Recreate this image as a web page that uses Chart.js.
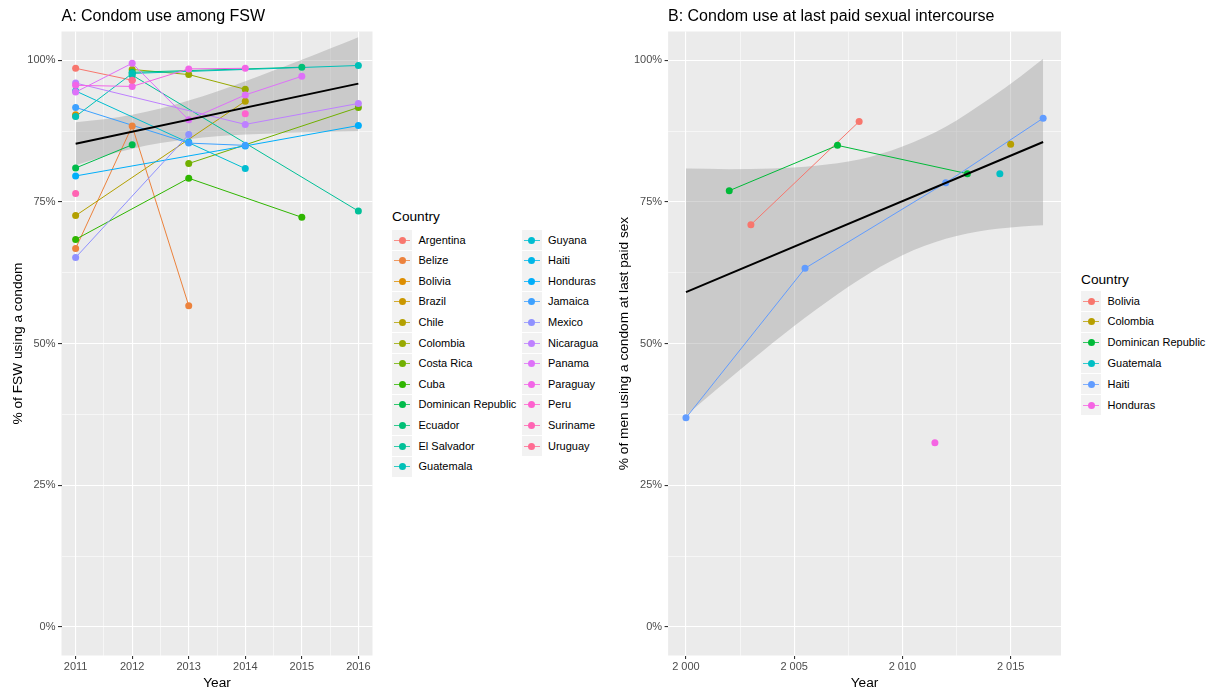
<!DOCTYPE html>
<html>
<head>
<meta charset="utf-8">
<script src="https://cdn.jsdelivr.net/npm/chart.js@4.4.1/dist/chart.umd.min.js"></script>
<style>
  body { margin: 0; background: #fff; font-family: "Liberation Sans", Arial, sans-serif; }
  #page { position: relative; width: 1214px; height: 693px; overflow: hidden; }
  canvas { position: absolute; top: 0; }
  .ttl { position: absolute; top: 6px; font-size: 16px; line-height: 20px; color: #000; white-space: nowrap; }
  .lgd-title { position: absolute; font-size: 13.7px; line-height: 16px; color: #000; }
  .key { position: absolute; width: 20px; height: 20px; background: #f2f2f2; }
  .key .ln { position: absolute; left: 2px; right: 2px; top: 9.5px; height: 1px; opacity: 0.8; }
  .key .dt { position: absolute; left: 6.5px; top: 6.5px; width: 7px; height: 7px; border-radius: 50%; }
  .lab { position: absolute; font-size: 11px; line-height: 13px; color: #000; white-space: nowrap; }
</style>
</head>
<body>
<div id="page">
  <canvas id="fsw" width="383" height="693" style="left:0"></canvas>
  <canvas id="men" width="470" height="693" style="left:600px"></canvas>
  <div class="ttl" style="left:61.5px">A: Condom use among FSW</div>
  <div class="ttl" style="left:668px">B: Condom use at last paid sexual intercourse</div>
</div>
<script>
// panel A: condom use among FSW
var fswYears = [2011, 2012, 2013, 2014, 2015, 2016];
var fswCountries = ["Argentina", "Belize", "Bolivia", "Brazil", "Chile", "Colombia", "Costa Rica", "Cuba",
  "Dominican Republic", "Ecuador", "El Salvador", "Guatemala", "Guyana", "Haiti", "Honduras", "Jamaica",
  "Mexico", "Nicaragua", "Panama", "Paraguay", "Peru", "Suriname", "Uruguay"];
var fswValues = [
  [98.6, 96.5, null, null, null, null],   // Argentina
  [66.8, 88.4, 56.7, null, null, null],   // Belize
  [90.4, null, null, null, null, null],   // Bolivia
  [90.2, null, null, null, null, null],   // Brazil
  [72.6, null, null, 92.8, null, null],   // Chile
  [null, 98.4, 97.5, 94.9, null, null],   // Colombia
  [null, null, 81.8, null, null, 91.7],   // Costa Rica
  [68.4, null, 79.2, null, 72.3, null],   // Cuba
  [81.0, 85.1, null, null, null, null],   // Dominican Republic
  [null, 97.9, null, null, 98.8, null],   // Ecuador
  [null, 97.4, null, null, null, 73.4],   // El Salvador
  [90.1, 97.7, null, null, null, 99.1],   // Guatemala
  [94.6, null, null, 80.9, null, null],   // Guyana
  [null, null, 85.6, null, null, null],   // Haiti
  [79.6, null, null, 84.9, null, 88.5],   // Honduras
  [91.7, null, 85.4, 85.0, null, null],   // Jamaica
  [65.2, null, 86.9, null, null, null],   // Mexico
  [96.0, null, null, 88.7, null, 92.4],   // Nicaragua
  [94.4, 99.5, 89.5, 93.9, 97.2, null],   // Panama
  [95.6, 95.4, 98.5, 98.6, null, null],   // Paraguay
  [null, null, null, 90.6, null, null],   // Peru
  [76.5, null, null, null, null, null],   // Suriname
  [null, 96.5, null, null, null, null]    // Uruguay
];
var fswFitYears = [2011, 2016];
var fswFit = [85.3, 95.9];
var fswBandYears = [2011, 2011.5, 2012, 2012.5, 2013, 2013.5, 2014, 2014.5, 2015, 2015.5, 2016];
var fswBandLow = [81.5, 83.1, 84.4, 85.4, 86.1, 86.6, 86.9, 87.1, 87.3, 87.4, 87.5];
var fswBandHigh = [89.1, 89.6, 90.4, 91.5, 92.9, 94.5, 96.3, 98.2, 100.1, 102.1, 104.1];

// panel B: men, last paid sex
var menCountries = ["Bolivia", "Colombia", "Dominican Republic", "Guatemala", "Haiti", "Honduras"];
var menYears = [[2003, 2008], [2015], [2002, 2007, 2013], [2014.5], [2000, 2005.5, 2012, 2016.5], [2011.5]];
var menValues = [[71.0, 89.2], [85.2], [77.0, 85.0, 80.0], [80.0], [36.9, 63.3, 78.4, 89.8], [32.5]];
var menFitYears = [2000, 2016.5];
var menFit = [59.1, 85.6];
var menBandYears = [2000, 2002, 2004, 2006, 2008, 2010, 2012, 2014, 2015.5, 2016.5];
var menBandLow = [37.3, 43.8, 50.1, 56.0, 61.3, 65.6, 68.5, 70.1, 70.7, 70.9];
var menBandHigh = [80.9, 80.8, 80.9, 81.4, 82.5, 84.8, 88.3, 93.2, 97.3, 100.3];

// axes
var pctTicks = [0, 25, 50, 75, 100];
var pctLabels = ["0%", "25%", "50%", "75%", "100%"];
var pctMinor = [12.5, 37.5, 62.5, 87.5];
var fswXTicks = [2011, 2012, 2013, 2014, 2015, 2016];
var fswXLabels = ["2011", "2012", "2013", "2014", "2015", "2016"];
var fswXMinor = [2011.5, 2012.5, 2013.5, 2014.5, 2015.5];
var menXTicks = [2000, 2005, 2010, 2015];
var menXLabels = ["2 000", "2 005", "2 010", "2 015"];
var menXMinor = [2002.5, 2007.5, 2012.5];

var FONT = '"Liberation Sans", Arial, sans-serif';

// ggplot hue_pal colours (hcl, l = 65, c = 100)
function hcl(h, c, l) {
  var hr = h * Math.PI / 180;
  var U = c * Math.cos(hr), V = c * Math.sin(hr);
  var Xn = 95.047, Yn = 100, Zn = 108.883;
  var Y = l > 8 ? Yn * Math.pow((l + 16) / 116, 3) : Yn * l / 903.3;
  var den = Xn + 15 * Yn + 3 * Zn;
  var u = U / (13 * l) + 4 * Xn / den, v = V / (13 * l) + 9 * Yn / den;
  var X = 9 * Y * u / (4 * v);
  var Z = -X / 3 - 5 * Y + 3 * Y / v;
  var lin = [3.240479 * X - 1.537150 * Y - 0.498535 * Z,
             -0.969256 * X + 1.875992 * Y + 0.041556 * Z,
             0.055648 * X - 0.204043 * Y + 1.057311 * Z];
  var rgb = lin.map(function (t) {
    t = t / 100;
    t = t <= 0.0031308 ? 12.92 * t : 1.055 * Math.pow(t, 1 / 2.4) - 0.055;
    return Math.round(255 * Math.min(1, Math.max(0, t)));
  });
  return 'rgb(' + rgb.join(',') + ')';
}
function huePal(n) {
  var out = [];
  for (var i = 0; i < n; i++) out.push(hcl(15 + i * 360 / n, 100, 65));
  return out;
}

var panelBg = {
  id: 'panelBg',
  beforeDraw: function (chart) {
    var a = chart.chartArea, c = chart.ctx;
    c.save();
    c.fillStyle = '#ebebeb';
    c.fillRect(a.left, a.top, a.right - a.left, a.bottom - a.top);
    c.restore();
  }
};

function axis(major, labels, minor, min, max, size, title, titlePad, tickPad) {
  var isMajor = function (ctx) { return ctx.tick && major.indexOf(ctx.tick.value) >= 0; };
  return {
    type: 'linear', min: min, max: max, bounds: 'data',
    afterBuildTicks: function (s) {
      s.ticks = major.concat(minor).sort(function (a, b) { return a - b; })
        .map(function (v) { return { value: v }; });
    },
    afterFit: size,
    ticks: {
      autoSkip: false, maxRotation: 0, minRotation: 0, padding: tickPad,
      color: '#4d4d4d', font: { family: FONT, size: 11 },
      callback: function (v) { var i = major.indexOf(v); return i < 0 ? '' : labels[i]; }
    },
    grid: {
      color: '#ffffff',
      lineWidth: function (ctx) { return isMajor(ctx) ? 1.1 : 0.55; },
      tickColor: function (ctx) { return isMajor(ctx) ? '#333333' : 'rgba(0,0,0,0)'; },
      tickWidth: 1.1, tickLength: 3.5
    },
    border: { display: false },
    title: { display: true, text: title, color: '#000', font: { family: FONT, size: 13.7 }, padding: titlePad }
  };
}

function pts(xs, ys) {
  var out = [];
  for (var i = 0; i < xs.length; i++) if (ys[i] !== null) out.push({ x: xs[i], y: ys[i] });
  return out;
}

function buildDatasets(names, xsOf, ys, cols, bandX, bandLo, bandHi, fitX, fitY) {
  var ds = [
    { data: pts(bandX, bandLo), borderWidth: 0, pointRadius: 0, fill: false, order: 1000, cubicInterpolationMode: 'monotone' },
    { data: pts(bandX, bandHi), borderWidth: 0, pointRadius: 0, fill: '-1', backgroundColor: 'rgba(153,153,153,0.4)', order: 1000, cubicInterpolationMode: 'monotone' }
  ];
  names.forEach(function (n, i) {
    var d = pts(xsOf(i), ys[i]);
    ds.push({ label: n, data: d, borderColor: cols[i], borderWidth: 1, pointRadius: 0, fill: false, order: 500 - i });
    ds.push({ label: n, data: d, showLine: false, pointRadius: 3.5, pointBackgroundColor: cols[i], pointBorderWidth: 0, order: 200 - i });
  });
  ds.push({ data: pts(fitX, fitY), borderColor: '#000', borderWidth: 2, pointRadius: 0, fill: false, order: 0 });
  return ds;
}

function makeChart(id, datasets, xAx, yAx, padRight) {
  return new Chart(document.getElementById(id), {
    type: 'line',
    data: { datasets: datasets },
    options: {
      responsive: false, animation: false, events: [],
      layout: { padding: { top: 31.5, right: padRight, bottom: 0, left: 0 } },
      plugins: { legend: { display: false }, tooltip: { enabled: false } },
      scales: { x: xAx, y: yAx }
    },
    plugins: [panelBg]
  });
}

var fswCols = huePal(fswCountries.length);
var menCols = huePal(menCountries.length);

makeChart('fsw',
  buildDatasets(fswCountries, function () { return fswYears; }, fswValues, fswCols,
    fswBandYears, fswBandLow, fswBandHigh, fswFitYears, fswFit),
  axis(fswXTicks, fswXLabels, fswXMinor, 2010.75, 2016.25, function (s) { s.height = 37.5; }, 'Year', { top: 0, bottom: 1.8 }, 1.5),
  axis(pctTicks, pctLabels, pctMinor, -5.05, 105.1, function (s) { s.width = 61.5; }, '% of FSW using a condom', { top: 10, bottom: 0 }, 2.5),
  10.5);

makeChart('men',
  buildDatasets(menCountries, function (i) { return menYears[i]; }, menValues, menCols,
    menBandYears, menBandLow, menBandHigh, menFitYears, menFit),
  axis(menXTicks, menXLabels, menXMinor, 1999.175, 2017.325, function (s) { s.height = 37.5; }, 'Year', { top: 0, bottom: 1.8 }, 1.5),
  axis(pctTicks, pctLabels, pctMinor, -5.05, 105.1, function (s) { s.width = 68.1; }, '% of men using a condom at last paid sex', { top: 15.8, bottom: 0 }, 2.5),
  9);

// legends
var page = document.getElementById('page');
function el(cls, x, y, html) {
  var d = document.createElement('div');
  d.className = cls;
  d.style.left = x + 'px';
  d.style.top = y + 'px';
  if (html !== undefined) d.innerHTML = html;
  page.appendChild(d);
  return d;
}
function legend(names, cols, x0, titleY, firstY, step, perCol, colStep) {
  el('lgd-title', x0, titleY, 'Country');
  names.forEach(function (n, i) {
    var c = Math.floor(i / perCol), r = i % perCol;
    var kx = x0 + c * colStep, cy = firstY + r * step;
    var k = el('key', kx, cy - 10);
    k.innerHTML = '<div class="ln" style="background:' + cols[i] + '"></div><div class="dt" style="background:' + cols[i] + '"></div>';
    el('lab', kx + 26.5, cy - 6.5).textContent = n;
  });
}
legend(fswCountries, fswCols, 392, 209, 240, 20.6, 12, 129.5);
legend(menCountries, menCols, 1081, 272, 301, 20.8, 6, 0);
</script>
</body>
</html>
